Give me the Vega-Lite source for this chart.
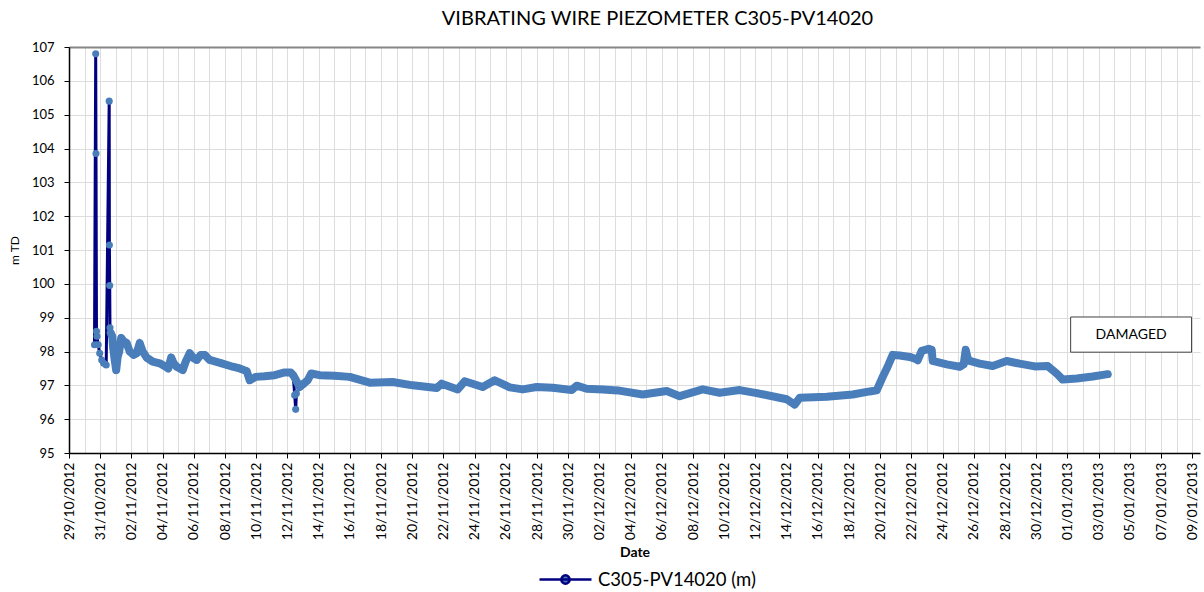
{
  "$schema": "https://vega.github.io/schema/vega-lite/v6.json",
  "width": 1131,
  "height": 406,
  "autosize": {"type": "none"},
  "padding": {"left": 69, "top": 47, "right": 4, "bottom": 139},
  "background": "white",
  "title": {"text": "VIBRATING WIRE PIEZOMETER C305-PV14020", "font": "Lato", "fontSize": 20, "fontWeight": "normal", "color": "#000", "anchor": "middle", "dx": 23, "offset": 12, "frame": "group"},
  "datasets": {
    "main": [
      {"date": "2012-10-30T15:14", "level": 98.2},
      {"date": "2012-10-30T17:05", "level": 106.8},
      {"date": "2012-10-30T17:32", "level": 103.85},
      {"date": "2012-10-30T18:18", "level": 98.6},
      {"date": "2012-10-30T19:05", "level": 98.45},
      {"date": "2012-10-30T20:55", "level": 98.2},
      {"date": "2012-10-30T23:14", "level": 97.95},
      {"date": "2012-10-31T02:18", "level": 97.75},
      {"date": "2012-10-31T05:23", "level": 97.65},
      {"date": "2012-10-31T09:14", "level": 97.6},
      {"date": "2012-10-31T13:51", "level": 105.4},
      {"date": "2012-10-31T14:09", "level": 101.15},
      {"date": "2012-10-31T14:37", "level": 99.95},
      {"date": "2012-10-31T15:04", "level": 98.7},
      {"date": "2012-10-31T16:09", "level": 98.55},
      {"date": "2012-10-31T18:28", "level": 98.45},
      {"date": "2012-10-31T20:00", "level": 98.1},
      {"date": "2012-10-31T22:18", "level": 97.75},
      {"date": "2012-11-01T00:37", "level": 97.45},
      {"date": "2012-11-01T02:55", "level": 97.85},
      {"date": "2012-11-01T05:14", "level": 98.0},
      {"date": "2012-11-01T08:18", "level": 98.4},
      {"date": "2012-11-01T12:09", "level": 98.3},
      {"date": "2012-11-01T16:46", "level": 98.25},
      {"date": "2012-11-01T21:23", "level": 98.0},
      {"date": "2012-11-02T03:32", "level": 97.9},
      {"date": "2012-11-02T08:09", "level": 97.95},
      {"date": "2012-11-02T12:46", "level": 98.25},
      {"date": "2012-11-02T17:23", "level": 98.0},
      {"date": "2012-11-02T23:32", "level": 97.82},
      {"date": "2012-11-03T08:46", "level": 97.7},
      {"date": "2012-11-03T19:32", "level": 97.65},
      {"date": "2012-11-04T04:46", "level": 97.55},
      {"date": "2012-11-04T08:37", "level": 97.5},
      {"date": "2012-11-04T13:14", "level": 97.82},
      {"date": "2012-11-04T17:05", "level": 97.65},
      {"date": "2012-11-04T21:42", "level": 97.55},
      {"date": "2012-11-05T06:55", "level": 97.45},
      {"date": "2012-11-05T11:32", "level": 97.7},
      {"date": "2012-11-05T17:41", "level": 97.95},
      {"date": "2012-11-05T23:51", "level": 97.8},
      {"date": "2012-11-06T04:28", "level": 97.75},
      {"date": "2012-11-06T10:37", "level": 97.9},
      {"date": "2012-11-06T16:46", "level": 97.9},
      {"date": "2012-11-07T00:28", "level": 97.75},
      {"date": "2012-11-07T18:55", "level": 97.65},
      {"date": "2012-11-08T11:51", "level": 97.55},
      {"date": "2012-11-08T22:37", "level": 97.5},
      {"date": "2012-11-09T09:23", "level": 97.42},
      {"date": "2012-11-09T14:00", "level": 97.15},
      {"date": "2012-11-09T23:14", "level": 97.25},
      {"date": "2012-11-10T13:05", "level": 97.27},
      {"date": "2012-11-11T04:28", "level": 97.3},
      {"date": "2012-11-11T19:51", "level": 97.38},
      {"date": "2012-11-12T05:05", "level": 97.38},
      {"date": "2012-11-12T08:55", "level": 97.3},
      {"date": "2012-11-12T11:14", "level": 96.71},
      {"date": "2012-11-12T12:46", "level": 96.29},
      {"date": "2012-11-12T13:51", "level": 96.76},
      {"date": "2012-11-12T18:55", "level": 96.95},
      {"date": "2012-11-13T01:05", "level": 97.05},
      {"date": "2012-11-13T07:14", "level": 97.15},
      {"date": "2012-11-13T12:37", "level": 97.35},
      {"date": "2012-11-14T01:42", "level": 97.3},
      {"date": "2012-11-15T00:46", "level": 97.28},
      {"date": "2012-11-15T23:51", "level": 97.25},
      {"date": "2012-11-17T06:37", "level": 97.08},
      {"date": "2012-11-18T18:00", "level": 97.1},
      {"date": "2012-11-20T00:46", "level": 97.0},
      {"date": "2012-11-21T13:42", "level": 96.92},
      {"date": "2012-11-21T21:23", "level": 97.05},
      {"date": "2012-11-22T22:00", "level": 96.88},
      {"date": "2012-11-23T08:46", "level": 97.12},
      {"date": "2012-11-24T12:28", "level": 96.95},
      {"date": "2012-11-25T06:55", "level": 97.15},
      {"date": "2012-11-26T06:00", "level": 96.94},
      {"date": "2012-11-27T02:00", "level": 96.88},
      {"date": "2012-11-27T23:32", "level": 96.95},
      {"date": "2012-11-29T00:09", "level": 96.93},
      {"date": "2012-11-30T05:23", "level": 96.86},
      {"date": "2012-11-30T13:05", "level": 96.99},
      {"date": "2012-12-01T04:28", "level": 96.9},
      {"date": "2012-12-02T05:05", "level": 96.88},
      {"date": "2012-12-03T04:09", "level": 96.85},
      {"date": "2012-12-04T18:37", "level": 96.73},
      {"date": "2012-12-06T07:32", "level": 96.83},
      {"date": "2012-12-07T03:32", "level": 96.68},
      {"date": "2012-12-08T14:55", "level": 96.88},
      {"date": "2012-12-09T17:05", "level": 96.78},
      {"date": "2012-12-10T23:51", "level": 96.86},
      {"date": "2012-12-12T02:00", "level": 96.77},
      {"date": "2012-12-14T00:09", "level": 96.59},
      {"date": "2012-12-14T12:28", "level": 96.43},
      {"date": "2012-12-14T20:09", "level": 96.63},
      {"date": "2012-12-16T13:42", "level": 96.66},
      {"date": "2012-12-18T05:42", "level": 96.73},
      {"date": "2012-12-19T07:51", "level": 96.82},
      {"date": "2012-12-19T18:37", "level": 96.85},
      {"date": "2012-12-20T03:51", "level": 97.25},
      {"date": "2012-12-20T11:23", "level": 97.55},
      {"date": "2012-12-20T19:14", "level": 97.9},
      {"date": "2012-12-21T06:00", "level": 97.88},
      {"date": "2012-12-21T21:23", "level": 97.84},
      {"date": "2012-12-22T06:37", "level": 97.78},
      {"date": "2012-12-22T09:42", "level": 97.74},
      {"date": "2012-12-22T15:51", "level": 98.02},
      {"date": "2012-12-23T02:37", "level": 98.08},
      {"date": "2012-12-23T07:14", "level": 98.05},
      {"date": "2012-12-23T08:46", "level": 97.72},
      {"date": "2012-12-24T06:18", "level": 97.62},
      {"date": "2012-12-25T02:18", "level": 97.55},
      {"date": "2012-12-25T08:28", "level": 97.62},
      {"date": "2012-12-25T11:32", "level": 98.05},
      {"date": "2012-12-25T14:37", "level": 97.8},
      {"date": "2012-12-25T17:42", "level": 97.72},
      {"date": "2012-12-26T09:05", "level": 97.64},
      {"date": "2012-12-27T05:05", "level": 97.57},
      {"date": "2012-12-28T02:37", "level": 97.72},
      {"date": "2012-12-28T22:37", "level": 97.64},
      {"date": "2012-12-29T21:42", "level": 97.56},
      {"date": "2012-12-30T17:42", "level": 97.57},
      {"date": "2012-12-31T07:32", "level": 97.35},
      {"date": "2012-12-31T16:46", "level": 97.17},
      {"date": "2013-01-01T14:18", "level": 97.2},
      {"date": "2013-01-02T14:55", "level": 97.26},
      {"date": "2013-01-03T14:00", "level": 97.33}
    ],
    "note": [
      {"x1": "2013-01-01T05:00", "x2": "2013-01-08T23:00", "y1": 97.98, "y2": 99.02, "xc": "2013-01-05T02:00", "yc": 98.5, "label": "DAMAGED"}
    ]
  },
  "resolve": {"axis": {"x": "independent"}},
  "layer": [
    {
      "data": {"name": "main", "format": {"parse": {"date": "date"}}},
      "mark": {"type": "line", "strokeWidth": 3, "interpolate": "linear"},
      "encoding": {
        "x": {"field": "date", "type": "temporal",
          "scale": {"domain": [{"year": 2012, "month": 10, "date": 29}, {"year": 2013, "month": 1, "date": 9, "hours": 12}], "nice": false},
          "axis": {"orient": "bottom", "grid": true, "domain": false, "ticks": false, "labels": false, "title": null, "tickCount": {"interval": "day", "step": 1}, "gridColor": "#dddddd"}},
        "y": {"field": "level", "type": "quantitative",
          "scale": {"domain": [95, 107], "nice": false, "zero": false},
          "axis": {"values": [95, 96, 97, 98, 99, 100, 101, 102, 103, 104, 105, 106, 107], "labelOverlap": false, "grid": true, "gridColor": "#dddddd", "title": "m TD", "titleFont": "Lato", "titleFontSize": 12, "titleFontWeight": "normal", "titleColor": "#000", "titlePadding": 10, "labelFont": "Lato", "labelFontSize": 13, "labelColor": "#000", "tickSize": 5, "tickColor": "#000", "labelPadding": 10, "domainColor": "#000", "domainWidth": 1.5}},
        "color": {"datum": "C305-PV14020 (m)", "type": "nominal", "scale": {"range": ["#000080"]},
          "legend": {"orient": "none", "legendX": 469, "legendY": 505, "title": null, "padding": 0,
            "symbolType": "M-1,0L1,0M0.16,0A0.16,0.16,0,1,1,-0.16,0A0.16,0.16,0,1,1,0.16,0Z",
            "symbolSize": 2704, "symbolStrokeWidth": 2.5, "labelFont": "Lato", "labelFontSize": 18.5, "labelColor": "#000", "labelOffset": 5,
            "encode": {"symbols": {"update": {"fill": {"value": "#4A7EBB"}, "stroke": {"value": "#000080"}, "strokeWidth": {"value": 2.5}}}}}}
      }
    },
    {
      "data": {"name": "main", "format": {"parse": {"date": "date"}}},
      "transform": [{"filter": "datum.date >= datetime(2012, 9, 31, 16, 0) && (datum.date < datetime(2012, 10, 12, 10, 0) || datum.date > datetime(2012, 10, 12, 15, 0))"}],
      "mark": {"type": "line", "strokeWidth": 8, "color": "#4A7EBB", "strokeJoin": "round", "strokeCap": "round"},
      "encoding": {
        "x": {"field": "date", "type": "temporal",
          "scale": {"domain": [{"year": 2012, "month": 10, "date": 29}, {"year": 2013, "month": 1, "date": 9, "hours": 12}], "nice": false},
          "axis": {"orient": "bottom", "grid": false, "format": "%d/%m/%Y", "labelAngle": -90, "labelFont": "Lato", "labelFontSize": 14, "labelColor": "#000", "labelPadding": 4, "labelOverlap": false, "labelFlush": false, "tickSize": 5, "tickColor": "#000", "domainColor": "#000", "domainWidth": 1.5,
            "title": "Date", "titleFont": "Lato", "titleFontSize": 14, "titleFontWeight": "bold", "titleColor": "#000", "titlePadding": 6,
            "values": [
              {"year": 2012, "month": 10, "date": 29}, {"year": 2012, "month": 10, "date": 31},
              {"year": 2012, "month": 11, "date": 2}, {"year": 2012, "month": 11, "date": 4}, {"year": 2012, "month": 11, "date": 6}, {"year": 2012, "month": 11, "date": 8}, {"year": 2012, "month": 11, "date": 10}, {"year": 2012, "month": 11, "date": 12}, {"year": 2012, "month": 11, "date": 14}, {"year": 2012, "month": 11, "date": 16}, {"year": 2012, "month": 11, "date": 18}, {"year": 2012, "month": 11, "date": 20}, {"year": 2012, "month": 11, "date": 22}, {"year": 2012, "month": 11, "date": 24}, {"year": 2012, "month": 11, "date": 26}, {"year": 2012, "month": 11, "date": 28}, {"year": 2012, "month": 11, "date": 30},
              {"year": 2012, "month": 12, "date": 2}, {"year": 2012, "month": 12, "date": 4}, {"year": 2012, "month": 12, "date": 6}, {"year": 2012, "month": 12, "date": 8}, {"year": 2012, "month": 12, "date": 10}, {"year": 2012, "month": 12, "date": 12}, {"year": 2012, "month": 12, "date": 14}, {"year": 2012, "month": 12, "date": 16}, {"year": 2012, "month": 12, "date": 18}, {"year": 2012, "month": 12, "date": 20}, {"year": 2012, "month": 12, "date": 22}, {"year": 2012, "month": 12, "date": 24}, {"year": 2012, "month": 12, "date": 26}, {"year": 2012, "month": 12, "date": 28}, {"year": 2012, "month": 12, "date": 30},
              {"year": 2013, "month": 1, "date": 1}, {"year": 2013, "month": 1, "date": 3}, {"year": 2013, "month": 1, "date": 5}, {"year": 2013, "month": 1, "date": 7}, {"year": 2013, "month": 1, "date": 9}
            ]}},
        "y": {"field": "level", "type": "quantitative", "scale": {"domain": [95, 107], "nice": false, "zero": false},
          "axis": {"values": [95, 96, 97, 98, 99, 100, 101, 102, 103, 104, 105, 106, 107], "labelOverlap": false, "title": "m TD"}}
      }
    },
    {
      "data": {"name": "main", "format": {"parse": {"date": "date"}}},
      "mark": {"type": "point", "filled": true, "shape": "circle", "size": 50, "color": "#4A7EBB", "opacity": 1},
      "encoding": {
        "x": {"field": "date", "type": "temporal",
          "scale": {"domain": [{"year": 2012, "month": 10, "date": 29}, {"year": 2013, "month": 1, "date": 9, "hours": 12}], "nice": false},
          "axis": {"orient": "top", "grid": false, "ticks": false, "labels": false, "title": null, "domainColor": "#868686", "domainWidth": 2}},
        "y": {"field": "level", "type": "quantitative", "scale": {"domain": [95, 107], "nice": false, "zero": false},
          "axis": {"values": [95, 96, 97, 98, 99, 100, 101, 102, 103, 104, 105, 106, 107], "labelOverlap": false, "title": "m TD"}}
      }
    },
    {
      "data": {"name": "note", "format": {"parse": {"x1": "date", "x2": "date", "xc": "date"}}},
      "mark": {"type": "rect", "fill": "white", "stroke": "#404040", "strokeWidth": 1},
      "encoding": {
        "x": {"field": "x1", "type": "temporal", "axis": null, "scale": {"domain": [{"year": 2012, "month": 10, "date": 29}, {"year": 2013, "month": 1, "date": 9, "hours": 12}], "nice": false}},
        "x2": {"field": "x2"},
        "y": {"field": "y1", "type": "quantitative", "scale": {"domain": [95, 107], "nice": false, "zero": false},
          "axis": {"values": [95, 96, 97, 98, 99, 100, 101, 102, 103, 104, 105, 106, 107], "labelOverlap": false, "title": "m TD"}},
        "y2": {"field": "y2"}
      }
    },
    {
      "data": {"name": "note", "format": {"parse": {"x1": "date", "x2": "date", "xc": "date"}}},
      "mark": {"type": "text", "font": "Lato", "fontSize": 14, "color": "#000", "align": "center", "baseline": "middle"},
      "encoding": {
        "x": {"field": "xc", "type": "temporal", "axis": null, "scale": {"domain": [{"year": 2012, "month": 10, "date": 29}, {"year": 2013, "month": 1, "date": 9, "hours": 12}], "nice": false}},
        "y": {"field": "yc", "type": "quantitative", "scale": {"domain": [95, 107], "nice": false, "zero": false},
          "axis": {"values": [95, 96, 97, 98, 99, 100, 101, 102, 103, 104, 105, 106, 107], "labelOverlap": false, "title": "m TD"}},
        "text": {"field": "label"}
      }
    }
  ],
  "config": {"view": {"stroke": null}, "font": "Lato", "axisY": {"labelOverlap": false}}
}
